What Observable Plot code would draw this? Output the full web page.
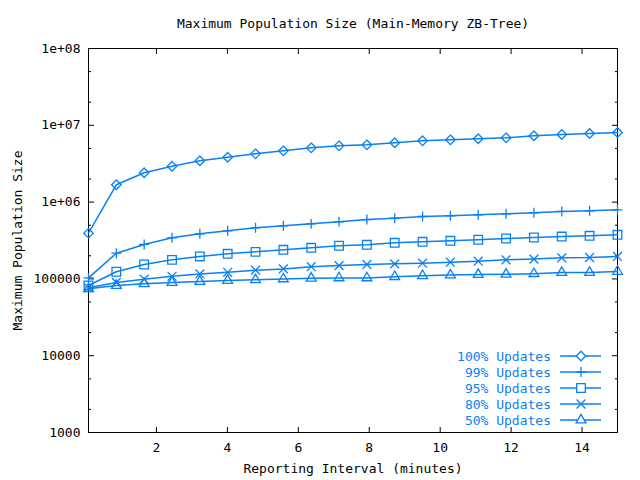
<!DOCTYPE html>
<html>
<head>
<meta charset="utf-8">
<script src="https://cdn.jsdelivr.net/npm/d3@7"></script>
<script src="https://cdn.jsdelivr.net/npm/@observablehq/plot@0.6"></script>
<style>
  html, body { margin: 0; padding: 0; background: white; }
  #chart { width: 640px; height: 480px; }
</style>
</head>
<body>
<div id="chart"></div>
<script>
// ---- Data ----
const titleText = "Maximum Population Size (Main-Memory ZB-Tree)";
const xLabel = "Reporting Interval (minutes)";
const yLabel = "Maximum Population Size";

const minutes = [0.083, 0.868, 1.653, 2.438, 3.223, 4.008, 4.793, 5.578, 6.363, 7.148,
                 7.933, 8.718, 9.503, 10.288, 11.073, 11.858, 12.643, 13.428, 14.213, 15.0];

const seriesNames = ["100% Updates", "99% Updates", "95% Updates", "80% Updates", "50% Updates"];

const updates100 = [394000, 1680000, 2410000, 2930000, 3450000, 3840000, 4250000, 4650000, 5090000, 5400000,
                    5570000, 5920000, 6280000, 6470000, 6670000, 6870000, 7300000, 7590000, 7820000, 8060000];
const updates99 = [103000, 216000, 281000, 343000, 387000, 423000, 463000, 491000, 521000, 554000,
                   593000, 617000, 649000, 663000, 684000, 704000, 726000, 755000, 771000, 794000];
const updates95 = [82000, 124000, 154000, 177000, 196000, 212000, 225000, 239000, 254000, 270000,
                   278000, 295000, 304000, 313000, 323000, 336000, 346000, 356000, 364000, 375000];
const updates80 = [76600, 89800, 99000, 108000, 116000, 122000, 130000, 135000, 144000, 149000,
                   154000, 157000, 160000, 165000, 170000, 177000, 181000, 188000, 190000, 196000];
const updates50 = [74300, 82000, 86300, 89800, 92500, 95300, 97300, 100000, 102000, 103000,
                   103000, 107000, 110000, 112000, 114000, 115000, 117000, 121000, 121000, 125000];

const xTicks = [2, 4, 6, 8, 10, 12, 14];
const yTicks = [1000, 10000, 100000, 1000000, 10000000, 100000000];
const yTickLabels = ["1000", "10000", "100000", "1e+06", "1e+07", "1e+08"];
const yMinorTicks = [2000, 5000, 20000, 50000, 200000, 500000, 2000000, 5000000, 20000000, 50000000];

// ---- Styles ----
const blue = "#0a80f5";
const font = "DejaVu Sans Mono";
const symbols = ["diamond2", "plus", "square2", "times", "triangle2"];
const radii = [4.3, 3.3, 5.5, 4.1, 4.7];

const allValues = [updates100, updates99, updates95, updates80, updates50];
const series = seriesNames.map((name, i) => ({
  name, symbol: symbols[i], r: radii[i],
  rows: minutes.map((m, j) => ({x: m, y: allValues[i][j], s: name}))
}));

const labelMap = new Map(yTicks.map((t, i) => [t, yTickLabels[i]]));

const marks = [
  Plot.frame({stroke: "black", strokeWidth: 1}),
  // inward ticks on all four sides
  Plot.axisX({anchor: "bottom", ticks: xTicks, tickSize: -5, tickFormat: () => "", label: null}),
  Plot.axisX({anchor: "top", ticks: xTicks, tickSize: -5, tickFormat: () => "", label: null}),
  Plot.axisY({anchor: "left", ticks: yTicks, tickSize: -6, tickFormat: () => "", label: null}),
  Plot.axisY({anchor: "right", ticks: yTicks, tickSize: -6, tickFormat: () => "", label: null}),
  Plot.axisY({anchor: "left", ticks: yMinorTicks, tickSize: -3, tickFormat: () => "", label: null}),
  Plot.axisY({anchor: "right", ticks: yMinorTicks, tickSize: -3, tickFormat: () => "", label: null}),
  // tick labels
  Plot.axisX({anchor: "bottom", ticks: xTicks, tickSize: 0, tickPadding: 10, tickFormat: d => String(d), label: null, fontSize: 13}),
  Plot.axisY({anchor: "left", ticks: yTicks, tickSize: 0, tickPadding: 8, tickFormat: d => labelMap.get(d), label: null, fontSize: 13}),
  // titles
  Plot.text([titleText], {text: d => d, frameAnchor: "top", dy: -30, fontSize: 13, fill: "black"}),
  Plot.text([xLabel], {text: d => d, frameAnchor: "bottom", dy: 40, fontSize: 13, fill: "black"}),
  Plot.text([yLabel], {text: d => d, frameAnchor: "left", textAnchor: "middle", dx: -71, rotate: -90, fontSize: 13, fill: "black"})
];

for (const s of series) {
  marks.push(Plot.line(s.rows, {x: "x", y: "y", stroke: blue, strokeWidth: 1.5}));
}
for (const s of series) {
  marks.push(Plot.dot(s.rows, {x: "x", y: "y", symbol: () => s.symbol, r: s.r, stroke: blue, fill: "none", strokeWidth: 1.3}));
}

const chart = Plot.plot({
  width: 640,
  height: 480,
  marginLeft: 88,
  marginRight: 23,
  marginTop: 48,
  marginBottom: 48,
  style: {fontFamily: font, fontSize: "13px", background: "white", color: "black", overflow: "visible"},
  x: {domain: [1 / 12, 15]},
  y: {type: "log", domain: [1000, 1e8]},
  symbol: {domain: symbols, range: symbols},
  marks
});

document.getElementById("chart").appendChild(chart);

// ---- Legend (inside plot area, bottom-right) ----
const svg = d3.select(chart.tagName.toLowerCase() === "svg" ? chart : chart.querySelector("svg"));
const legendTextRight = 551, lineX1 = 560, lineX2 = 601, markX = 581, rowY0 = 356, rowStep = 16;
const symMap = {diamond2: d3.symbolDiamond2, plus: d3.symbolPlus, square2: d3.symbolSquare2, times: d3.symbolTimes, triangle2: d3.symbolTriangle2};
const lg = svg.append("g").attr("font-family", font).attr("font-size", 13);
series.forEach((s, i) => {
  const y = rowY0 + i * rowStep;
  lg.append("text").attr("x", legendTextRight).attr("y", y).attr("dy", "0.35em")
    .attr("text-anchor", "end").attr("fill", blue).text(s.name);
  lg.append("line").attr("x1", lineX1).attr("x2", lineX2).attr("y1", y).attr("y2", y)
    .attr("stroke", blue).attr("stroke-width", 1.5);
  lg.append("path").attr("transform", `translate(${markX},${y})`)
    .attr("d", d3.symbol(symMap[s.symbol], Math.PI * s.r * s.r)())
    .attr("fill", "white").attr("stroke", blue).attr("stroke-width", 1.3);
});
</script>
</body>
</html>
